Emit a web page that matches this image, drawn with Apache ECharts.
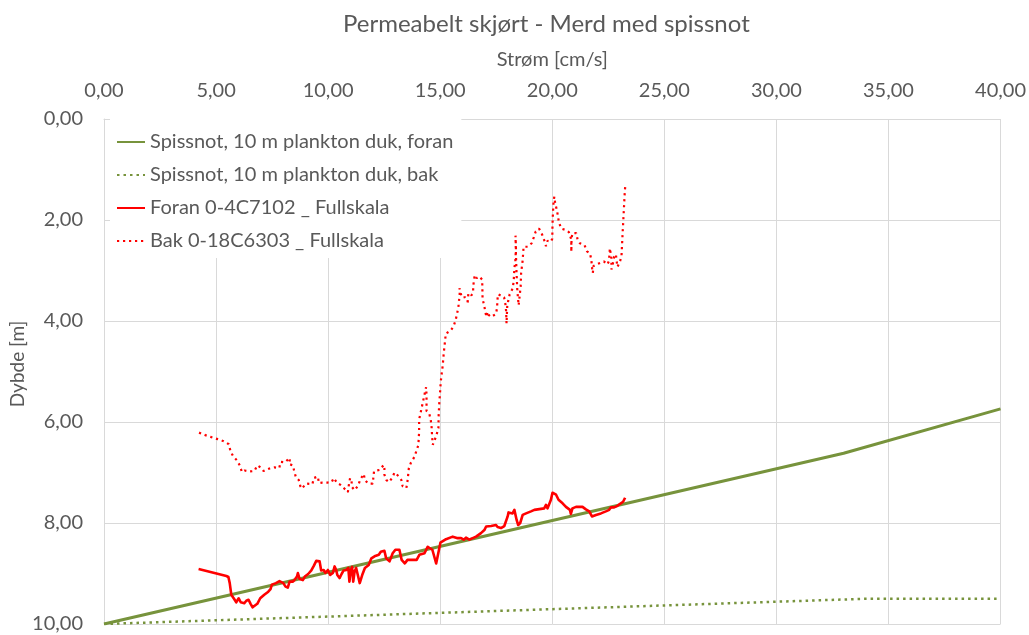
<!DOCTYPE html>
<html>
<head>
<meta charset="utf-8">
<script src="https://cdn.jsdelivr.net/npm/echarts@6/dist/echarts.min.js"></script>
<style>html,body{margin:0;padding:0;background:#fff}#c{width:1029px;height:635px}</style>
</head>
<body>
<div id="c"></div>
<script>
const titleText = 'Permeabelt skjørt - Merd med spissnot';
const xName = 'Strøm [cm/s]';
const yName = 'Dybde [m]';
const seriesNames = ['Spissnot, 10 m plankton duk, foran', 'Spissnot, 10 m plankton duk, bak', 'Foran 0-4C7102 _ Fullskala', 'Bak 0-18C6303 _ Fullskala'];

// [strøm, dybde]
const spissForan = [[0,10],[33,6.62],[40,5.74]];
const spissBak = [[0,10],[34,9.5],[40,9.5]];

const foranData = [[4.22,8.91],[5.46,9.05],[5.55,9.07],[5.61,9.19],[5.68,9.42],[5.80,9.50],[5.90,9.57],[6.01,9.49],[6.10,9.57],[6.26,9.59],[6.35,9.54],[6.45,9.52],[6.54,9.60],[6.63,9.67],[6.71,9.69],[6.84,9.60],[6.97,9.49],[7.15,9.42],[7.33,9.36],[7.43,9.31],[7.49,9.22],[7.67,9.19],[7.83,9.15],[8.00,9.19],[8.10,9.26],[8.20,9.28],[8.28,9.16],[8.43,9.16],[8.53,9.11],[8.61,9.06],[8.65,8.99],[8.73,9.11],[8.87,9.13],[8.96,9.06],[9.11,9.01],[9.25,8.94],[9.36,8.85],[9.47,8.75],[9.62,8.76],[9.69,8.94],[9.80,8.93],[9.88,8.99],[9.99,8.93],[10.09,9.03],[10.21,8.99],[10.29,8.86],[10.36,8.93],[10.41,9.03],[10.51,9.09],[10.60,9.01],[10.69,8.94],[10.81,8.93],[10.90,8.89],[10.95,9.16],[11.01,8.93],[11.07,8.87],[11.12,9.16],[11.18,8.96],[11.25,8.89],[11.34,9.06],[11.41,9.19],[11.52,9.03],[11.64,8.89],[11.81,8.83],[11.93,8.70],[12.07,8.66],[12.26,8.63],[12.35,8.57],[12.51,8.55],[12.59,8.70],[12.74,8.76],[12.88,8.60],[13.00,8.53],[13.18,8.53],[13.28,8.73],[13.42,8.80],[13.54,8.73],[13.77,8.73],[13.95,8.73],[14.07,8.63],[14.30,8.60],[14.44,8.47],[14.52,8.45],[14.65,8.53],[14.82,8.80],[14.89,8.83],[14.96,8.50],[15.01,8.39],[15.26,8.32],[15.56,8.27],[15.78,8.30],[15.93,8.30],[16.05,8.33],[16.15,8.29],[16.30,8.33],[16.45,8.30],[16.60,8.27],[16.67,8.24],[16.82,8.20],[16.97,8.14],[17.05,8.07],[17.27,8.06],[17.49,8.04],[17.56,8.08],[17.71,8.10],[17.86,8.06],[18.01,7.87],[18.05,7.79],[18.23,7.81],[18.31,7.74],[18.38,7.77],[18.41,7.94],[18.48,8.04],[18.57,8.00],[18.68,7.84],[18.83,7.81],[19.05,7.77],[19.20,7.74],[19.35,7.73],[19.42,7.74],[19.64,7.71],[19.72,7.64],[19.79,7.71],[19.94,7.54],[20.01,7.40],[20.09,7.39],[20.17,7.44],[20.28,7.54],[20.46,7.61],[20.61,7.68],[20.79,7.74],[20.83,7.82],[20.90,7.71],[21.06,7.68],[21.35,7.68],[21.50,7.73],[21.65,7.77],[21.77,7.87],[21.83,7.90],[21.95,7.84],[22.17,7.81],[22.39,7.77],[22.54,7.74],[22.62,7.69],[22.76,7.69],[22.91,7.66],[23.06,7.61],[23.16,7.58],[23.25,7.50]];

const bakData = [[4.24,6.21],[4.52,6.26],[4.79,6.30],[5.07,6.34],[5.34,6.38],[5.57,6.44],[5.64,6.57],[5.75,6.67],[5.93,6.76],[6.07,6.87],[6.15,6.99],[6.27,6.96],[6.51,6.98],[6.71,6.97],[6.84,6.86],[6.99,6.90],[7.12,6.97],[7.39,6.92],[7.60,6.90],[7.82,6.91],[7.88,6.79],[8.07,6.80],[8.28,6.71],[8.29,6.75],[8.25,6.83],[8.43,6.86],[8.49,6.98],[8.56,7.09],[8.69,7.15],[8.76,7.27],[8.83,7.32],[9.01,7.22],[9.30,7.23],[9.36,7.11],[9.54,7.08],[9.59,7.21],[9.74,7.20],[9.96,7.20],[10.16,7.19],[10.25,7.11],[10.41,7.21],[10.57,7.25],[10.73,7.32],[10.88,7.39],[10.92,7.26],[10.98,7.11],[11.04,7.16],[11.07,7.29],[11.18,7.35],[11.34,7.26],[11.43,7.14],[11.59,7.03],[11.64,7.15],[11.79,7.22],[11.99,7.22],[12.02,7.09],[12.05,6.97],[12.30,6.95],[12.48,6.85],[12.51,6.92],[12.51,7.04],[12.60,7.15],[12.72,7.19],[12.88,7.09],[12.96,7.00],[13.14,7.07],[13.27,7.15],[13.32,7.27],[13.49,7.31],[13.54,7.17],[13.57,7.05],[13.60,6.92],[13.69,6.81],[13.85,6.69],[13.94,6.57],[14.03,6.45],[14.04,6.33],[14.06,6.20],[14.06,6.07],[14.06,5.95],[14.12,5.83],[14.37,5.31],[14.39,5.45],[14.39,5.56],[14.39,5.78],[14.51,5.83],[14.58,5.96],[14.62,6.12],[14.64,6.30],[14.67,6.45],[14.82,6.28],[14.89,6.27],[14.92,6.12],[14.93,5.88],[14.96,5.62],[15.00,5.37],[15.02,5.23],[15.05,5.10],[15.11,4.89],[15.16,4.63],[15.22,4.38],[15.25,4.25],[15.47,4.19],[15.60,4.10],[15.69,3.98],[15.75,3.86],[15.81,3.73],[15.87,3.47],[15.86,3.35],[15.96,3.53],[16.11,3.53],[16.24,3.58],[16.21,3.67],[16.26,3.45],[16.39,3.49],[16.47,3.44],[16.47,3.32],[16.51,3.19],[16.54,3.09],[16.63,3.15],[16.75,3.12],[16.87,3.18],[16.88,3.31],[16.89,3.56],[16.96,3.69],[17.06,3.92],[17.12,3.82],[17.16,3.88],[17.27,3.92],[17.49,3.86],[17.54,3.73],[17.55,3.60],[17.58,3.47],[17.65,3.47],[17.85,3.53],[17.91,3.67],[17.94,3.80],[17.96,4.05],[17.99,3.71],[18.04,3.59],[18.10,3.47],[18.23,3.36],[18.28,3.21],[18.31,2.95],[18.35,2.83],[18.38,2.56],[18.36,2.31],[18.38,2.70],[18.41,3.09],[18.44,3.39],[18.50,3.69],[18.56,3.44],[18.59,3.31],[18.61,3.05],[18.68,2.80],[18.72,2.53],[18.90,2.53],[19.08,2.46],[19.17,2.35],[19.26,2.23],[19.41,2.17],[19.54,2.28],[19.64,2.40],[19.72,2.52],[19.79,2.41],[19.94,2.43],[20.00,2.37],[20.01,2.10],[20.03,1.87],[20.06,1.63],[20.09,1.54],[20.13,1.67],[20.21,1.81],[20.30,2.05],[20.40,2.17],[20.61,2.20],[20.74,2.24],[20.85,2.39],[20.85,2.63],[20.86,2.37],[20.90,2.26],[21.07,2.26],[21.13,2.39],[21.23,2.46],[21.44,2.50],[21.55,2.62],[21.68,2.66],[21.74,2.78],[21.78,2.96],[21.81,3.05],[21.84,2.91],[22.02,2.87],[22.30,2.82],[22.46,2.88],[22.53,2.81],[22.57,2.56],[22.64,2.76],[22.64,2.98],[22.71,2.85],[22.76,2.73],[22.84,2.68],[22.87,2.81],[22.91,2.93],[23.03,2.81],[23.09,2.70],[23.12,2.43],[23.15,2.17],[23.18,1.92],[23.21,1.66],[23.24,1.41],[23.27,1.28]];

const xMin = 0, xMax = 40, xStep = 5;
const yMin = 0, yMax = 10, yStep = 2;

const FONT = 'Lato';
const TXT = '#595959';
const GREEN = '#77933C';
const RED = '#FF0000';
const fmt = v => v.toFixed(2).replace('.', ',');

const chart = echarts.init(document.getElementById('c'), null, {renderer: 'canvas'});
chart.setOption({
  animation: false,
  backgroundColor: '#fff',
  textStyle: {fontFamily: FONT},
  title: {
    text: titleText, left: 338, top: 7,
    textStyle: {fontFamily: FONT, fontSize: 24, fontWeight: 'normal', color: TXT}
  },
  grid: {left: 104, right: 27, top: 119, bottom: 11, containLabel: false},
  legend: {
    orient: 'vertical', left: 110, top: 119,
    backgroundColor: '#fff',
    padding: [13, 8, 7, 6],
    itemWidth: 28, itemHeight: 20, itemGap: 13,
    itemStyle: {opacity: 0, color: 'rgba(0,0,0,0)', borderColor: 'rgba(0,0,0,0)', borderWidth: 0},
    textStyle: {fontFamily: FONT, fontSize: 20, color: TXT, lineHeight: 20},
    data: seriesNames
  },
  graphic: [{
    type: 'text', x: 18, y: 364, rotation: Math.PI / 2,
    style: {text: yName, fontFamily: FONT, fontSize: 19, fill: TXT, align: 'center', verticalAlign: 'middle'}
  }],
  xAxis: {
    type: 'value', position: 'top', min: xMin, max: xMax, interval: xStep,
    name: xName, nameLocation: 'middle', nameGap: 49,
    nameTextStyle: {fontFamily: FONT, fontSize: 20, color: TXT},
    axisLine: {show: true, lineStyle: {color: '#d9d9d9', width: 1}},
    axisTick: {show: false},
    axisLabel: {formatter: fmt, fontFamily: FONT, fontSize: 20, color: TXT, margin: 18},
    splitLine: {show: true, lineStyle: {color: '#d9d9d9', width: 1}}
  },
  yAxis: {
    type: 'value', inverse: true, min: yMin, max: yMax, interval: yStep,
    axisLine: {show: true, lineStyle: {color: '#d9d9d9', width: 1}},
    axisTick: {show: false},
    axisLabel: {formatter: fmt, fontFamily: FONT, fontSize: 20, color: TXT, margin: 21},
    splitLine: {show: true, lineStyle: {color: '#d9d9d9', width: 1}}
  },
  series: [
    {name: seriesNames[0], type: 'line', data: spissForan, symbol: 'none', showSymbol: false,
     lineStyle: {color: GREEN, width: 3}, itemStyle: {color: GREEN}, z: 2},
    {name: seriesNames[1], type: 'line', data: spissBak, symbol: 'none', showSymbol: false,
     lineStyle: {color: GREEN, width: 2.5, type: [2.5, 4], cap: 'butt'}, itemStyle: {color: GREEN}, z: 2},
    {name: seriesNames[2], type: 'line', data: foranData, symbol: 'none', showSymbol: false,
     lineStyle: {color: RED, width: 2.6, join: 'round'}, itemStyle: {color: RED}, z: 3},
    {name: seriesNames[3], type: 'line', data: bakData, symbol: 'none', showSymbol: false,
     lineStyle: {color: RED, width: 2.2, type: [2.2, 3.8], cap: 'butt'}, itemStyle: {color: RED}, z: 3}
  ]
});
</script>
</body>
</html>
